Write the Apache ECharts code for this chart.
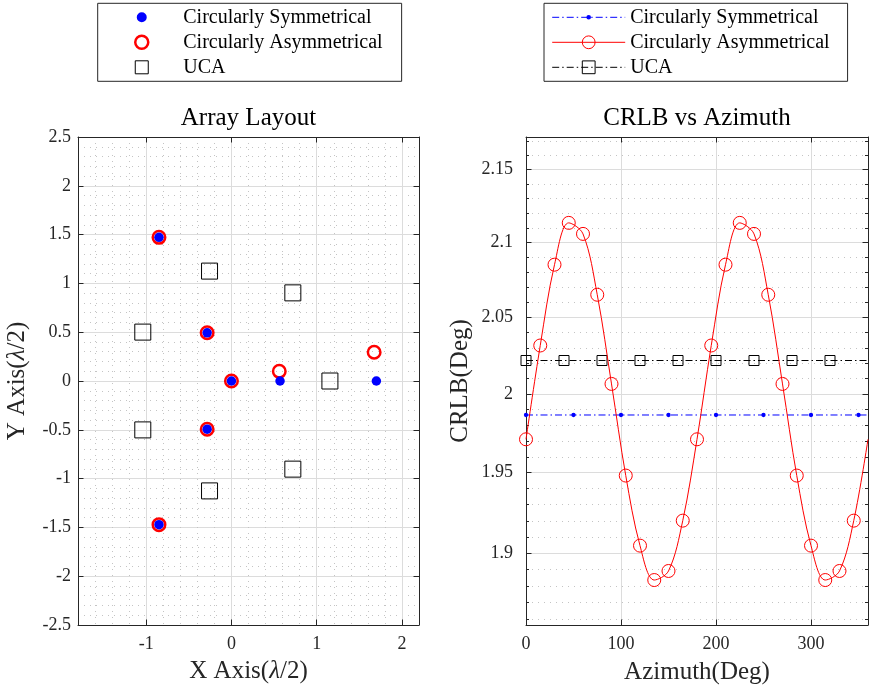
<!DOCTYPE html>
<html><head><meta charset="utf-8">
<script src="https://cdn.jsdelivr.net/npm/echarts@6/dist/echarts.min.js"></script>
<style>html,body{margin:0;padding:0;background:#fff}#c{width:870px;height:686px}</style>
</head><body><div id="c"></div>
<script>
// ---------------- data ----------------
// Array layout (units of lambda/2)
const symX  = [0, 0.57, 1.70, -0.285, -0.85, -0.285, -0.85];
const symY  = [0, 0, 0, 0.494, 1.472, -0.494, -1.472];
const asymX = [0, 0.561, 1.674, -0.285, -0.85, -0.285, -0.85];
const asymY = [0, 0.099, 0.295, 0.494, 1.472, -0.494, -1.472];
const ucaX  = [1.155, 0.72, -0.257, -1.04, -1.04, -0.257, 0.72];
const ucaY  = [0, 0.903, 1.126, 0.501, -0.501, -1.126, -0.903];

// CRLB vs azimuth
const asymAz   = [0, 15, 30, 45, 60, 75, 90, 105, 120, 135, 150, 165, 180, 195, 210, 225, 240, 255, 270, 285, 300, 315, 330, 345, 360];
const asymCrlb = [1.9711, 2.0316, 2.0852, 2.1135, 2.1060, 2.0651, 2.0066, 1.9482, 1.9047, 1.8837, 1.8892, 1.9201,
                  1.9711, 2.0316, 2.0852, 2.1135, 2.1060, 2.0651, 2.0066, 1.9482, 1.9047, 1.8837, 1.8892, 1.9201, 1.9711];
const symAz    = [0, 50, 100, 150, 200, 250, 300, 350, 360];
const symCrlb  = [1.9866, 1.9866, 1.9866, 1.9866, 1.9866, 1.9866, 1.9866, 1.9866, 1.9866];
const ucaAz    = [0, 40, 80, 120, 160, 200, 240, 280, 320, 360];
const ucaCrlb  = [2.0218, 2.0218, 2.0218, 2.0218, 2.0218, 2.0218, 2.0218, 2.0218, 2.0218, 2.0218];

// tick labels
const layoutXTicks = [-1, 0, 1, 2];
const azimuthTicks = [0, 100, 200, 300];
const crlbTicks = [1.9, 1.95, 2, 2.05, 2.1, 2.15];
const crlbMinorTicks = [1.86, 1.87, 1.88, 1.89, 1.91, 1.92, 1.93, 1.94, 1.96, 1.97, 1.98, 1.99,
                        2.01, 2.02, 2.03, 2.04, 2.06, 2.07, 2.08, 2.09, 2.11, 2.12, 2.13, 2.14, 2.16, 2.17];

const names = ['Circularly Symmetrical', 'Circularly Asymmetrical', 'UCA'];

// ---------------- styles ----------------
const FONT = "'Liberation Serif', 'Times New Roman', serif";
const AXC = '#262626';
const GRIDC = '#dcdcdc';
const MINORC = '#c4c4c4';
const DOT = [1, 5];
const DASHDOT = [7, 3, 1.5, 3];
const NONE = 'rgba(0,0,0,0)';
const blueDotSmall = 'path://M0,0h0.001M10,10h0.001M3.2,5a1.8,1.8 0 1,0 3.6,0a1.8,1.8 0 1,0 -3.6,0Z';
const blueDotBig = 'path://M0,0h0.001M13,13h0.001M1.5,6.5a5,5 0 1,0 10,0a5,5 0 1,0 -10,0Z';
const squareIcon = 'path://M0,0h13v13h-13Z';

const tickLbl = {fontFamily: FONT, fontSize: 18, color: AXC};
const nameStyle = {fontFamily: FONT, fontSize: 25, color: AXC,
  rich: {i: {fontFamily: FONT, fontSize: 25, fontStyle: 'italic', color: AXC}}};
const axLine = {show: true, onZero: false, lineStyle: {color: AXC, width: 1}};
const noLine = {show: false, onZero: false};
const majTick = (vals, len) => ({show: true, inside: true, length: len || 5.5, customValues: vals, lineStyle: {color: AXC, width: 1}});

const chart = echarts.init(document.getElementById('c'), null, {renderer: 'canvas'});

const option = {
  animation: false,
  backgroundColor: '#fff',
  title: [
    {text: 'Array Layout', left: 248.5, top: 106, textAlign: 'center', padding: 0,
     textStyle: {fontFamily: FONT, fontSize: 25, fontWeight: 'normal', color: '#000'}},
    {text: 'CRLB vs Azimuth', left: 697, top: 106, textAlign: 'center', padding: 0,
     textStyle: {fontFamily: FONT, fontSize: 25, fontWeight: 'normal', color: '#000'}}
  ],
  legend: [
    {orient: 'vertical', left: 97.7, top: 3.3, padding: [4, 19, 4, 36.3],
     itemWidth: 73, itemHeight: 13, itemGap: 5,
     borderColor: AXC, borderWidth: 1, backgroundColor: '#fff', selectedMode: false,
     textStyle: {fontFamily: FONT, fontSize: 20, color: '#000'},
     data: [
       {name: names[0], icon: blueDotBig, itemStyle: {color: '#0000ff', borderWidth: 0, opacity: 1}},
       {name: names[1], icon: 'circle', itemStyle: {color: NONE, borderColor: '#ff0000', borderWidth: 2.5, opacity: 1}},
       {name: names[2], icon: squareIcon, itemStyle: {color: NONE, borderColor: '#000', borderWidth: 1, opacity: 1}}
     ]},
    {orient: 'vertical', left: 544, top: 3.3, padding: [4, 18, 4, 7.7],
     itemWidth: 73, itemHeight: 16, itemGap: 5,
     borderColor: AXC, borderWidth: 1, backgroundColor: '#fff', selectedMode: false,
     textStyle: {fontFamily: FONT, fontSize: 20, color: '#000'},
     data: [
       {name: names[0], itemStyle: {color: '#0000ff', borderWidth: 0}, lineStyle: {color: '#0000ff', width: 1, type: DASHDOT}},
       {name: names[1], itemStyle: {color: NONE, borderColor: '#ff0000', borderWidth: 1}, lineStyle: {color: '#ff0000', width: 1, type: 'solid'}},
       {name: names[2], itemStyle: {color: NONE, borderColor: '#000', borderWidth: 1}, lineStyle: {color: '#000', width: 1, type: DASHDOT}}
     ]}
  ],
  grid: [
    {left: 78, top: 137, width: 341, height: 488, outerBoundsMode: 'none', containLabel: false},
    {left: 526, top: 137, width: 342, height: 488, outerBoundsMode: 'none', containLabel: false}
  ],
  xAxis: [
    // 0: left minor grid
    {type: 'value', gridIndex: 0, position: 'bottom', min: -1.8, max: 2.2, interval: 0.2,
     axisLine: noLine, axisTick: {show: false}, axisLabel: {show: false},
     splitLine: {show: true, lineStyle: {color: MINORC, width: 1, type: DOT}}},
    // 1: left main
    {type: 'value', gridIndex: 0, position: 'bottom', min: -1.8, max: 2.2,
     name: 'X Axis({i|λ}/2)', nameLocation: 'middle', nameGap: 34, nameTextStyle: nameStyle, nameMoveOverlap: false,
     axisLine: axLine, axisTick: majTick(layoutXTicks),
     axisLabel: Object.assign({show: true, margin: 10, customValues: layoutXTicks}, tickLbl),
     splitLine: {show: true, lineStyle: {color: GRIDC, width: 1}}},
    // 2: left top box side
    {type: 'value', gridIndex: 0, position: 'top', min: -1.8, max: 2.2,
     axisLine: axLine, axisTick: majTick(layoutXTicks), axisLabel: {show: false}, splitLine: {show: false}},
    // 3: right main
    {type: 'value', gridIndex: 1, position: 'bottom', min: 0, max: 360,
     name: 'Azimuth(Deg)', nameLocation: 'middle', nameGap: 35, nameTextStyle: nameStyle, nameMoveOverlap: false,
     axisLine: axLine, axisTick: majTick(azimuthTicks),
     axisLabel: Object.assign({show: true, margin: 10, customValues: azimuthTicks}, tickLbl),
     splitLine: {show: true, lineStyle: {color: GRIDC, width: 1}}},
    // 4: right top box side
    {type: 'value', gridIndex: 1, position: 'top', min: 0, max: 360,
     axisLine: axLine, axisTick: majTick(azimuthTicks), axisLabel: {show: false}, splitLine: {show: false}}
  ],
  yAxis: [
    // 0: left main
    {type: 'value', gridIndex: 0, position: 'left', min: -2.5, max: 2.5, interval: 0.5,
     name: 'Y Axis({i|λ}/2)', nameLocation: 'middle', nameGap: 48, nameTextStyle: nameStyle, nameMoveOverlap: false,
     axisLine: axLine, axisTick: {show: true, inside: true, length: 5.5, lineStyle: {color: AXC}},
     axisLabel: Object.assign({show: true, margin: 7}, tickLbl),
     splitLine: {show: true, lineStyle: {color: GRIDC, width: 1}},
     minorTick: {show: false, splitNumber: 5},
     minorSplitLine: {show: true, lineStyle: {color: MINORC, width: 1, type: DOT}}},
    // 1: left right box side
    {type: 'value', gridIndex: 0, position: 'right', min: -2.5, max: 2.5, interval: 0.5,
     axisLine: axLine, axisTick: {show: true, inside: true, length: 5.5, lineStyle: {color: AXC}},
     axisLabel: {show: false}, splitLine: {show: false}},
    // 2: right minor (left side)
    {type: 'log', logBase: 10, gridIndex: 1, position: 'left', min: 1.8566, max: 2.1728,
     axisLine: noLine, axisTick: majTick(crlbMinorTicks, 3), axisLabel: {show: false},
     splitLine: {show: true, lineStyle: {color: MINORC, width: 1, type: DOT}}},
    // 3: right main
    {type: 'log', logBase: 10, gridIndex: 1, position: 'left', min: 1.8566, max: 2.1728,
     name: 'CRLB(Deg)', nameLocation: 'middle', nameGap: 53, nameTextStyle: nameStyle, nameMoveOverlap: false,
     axisLine: axLine, axisTick: majTick(crlbTicks),
     axisLabel: Object.assign({show: true, margin: 13, customValues: crlbTicks,
       formatter: v => String(Math.round(v * 100) / 100)}, tickLbl),
     splitLine: {show: true, lineStyle: {color: GRIDC, width: 1}}},
    // 4: right minor (right side)
    {type: 'log', logBase: 10, gridIndex: 1, position: 'right', min: 1.8566, max: 2.1728,
     axisLine: noLine, axisTick: majTick(crlbMinorTicks, 3), axisLabel: {show: false}, splitLine: {show: false}},
    // 5: right major (right side)
    {type: 'log', logBase: 10, gridIndex: 1, position: 'right', min: 1.8566, max: 2.1728,
     axisLine: axLine, axisTick: majTick(crlbTicks), axisLabel: {show: false}, splitLine: {show: false}}
  ],
  series: [
    // right plot (line series first so that the right legend uses their icons)
    {name: names[0], type: 'line', xAxisIndex: 3, yAxisIndex: 3,
     data: symAz.map((a, i) => ({value: [a, symCrlb[i]], symbol: a < 360 ? blueDotSmall : 'none'})),
     symbol: blueDotSmall, symbolSize: 12, showAllSymbol: true,
     itemStyle: {color: '#0000ff', borderWidth: 0},
     lineStyle: {color: '#0000ff', width: 1, type: DASHDOT}, z: 3},
    {name: names[1], type: 'line', xAxisIndex: 3, yAxisIndex: 3, smooth: 0.35,
     data: asymAz.map((a, i) => ({value: [a, asymCrlb[i]], symbol: a < 360 ? 'circle' : 'none'})),
     symbol: 'circle', symbolSize: 13, showAllSymbol: true,
     itemStyle: {color: NONE, borderColor: '#ff0000', borderWidth: 1},
     lineStyle: {color: '#ff0000', width: 1}, z: 4},
    {name: names[2], type: 'line', xAxisIndex: 3, yAxisIndex: 3,
     data: ucaAz.map((a, i) => ({value: [a, ucaCrlb[i]], symbol: a < 360 ? 'rect' : 'none'})),
     symbol: 'rect', symbolSize: 10, showAllSymbol: true,
     itemStyle: {color: NONE, borderColor: '#000', borderWidth: 1},
     lineStyle: {color: '#000', width: 1, type: DASHDOT}, z: 3},
    // left plot
    {name: names[2], type: 'scatter', xAxisIndex: 1, yAxisIndex: 0,
     data: ucaX.map((x, i) => [x, ucaY[i]]), symbol: 'rect', symbolSize: 16,
     itemStyle: {color: NONE, borderColor: '#000', borderWidth: 1, opacity: 1}, z: 3},
    {name: names[1], type: 'scatter', xAxisIndex: 1, yAxisIndex: 0,
     data: asymX.map((x, i) => [x, asymY[i]]), symbol: 'circle', symbolSize: 12.5,
     itemStyle: {color: NONE, borderColor: '#ff0000', borderWidth: 2.5, opacity: 1}, z: 4},
    {name: names[0], type: 'scatter', xAxisIndex: 1, yAxisIndex: 0,
     data: symX.map((x, i) => [x, symY[i]]), symbol: 'circle', symbolSize: 9.5,
     itemStyle: {color: '#0000ff', borderWidth: 0, opacity: 1}, z: 5}
  ]
};
chart.setOption(option);
</script>
</body></html>
